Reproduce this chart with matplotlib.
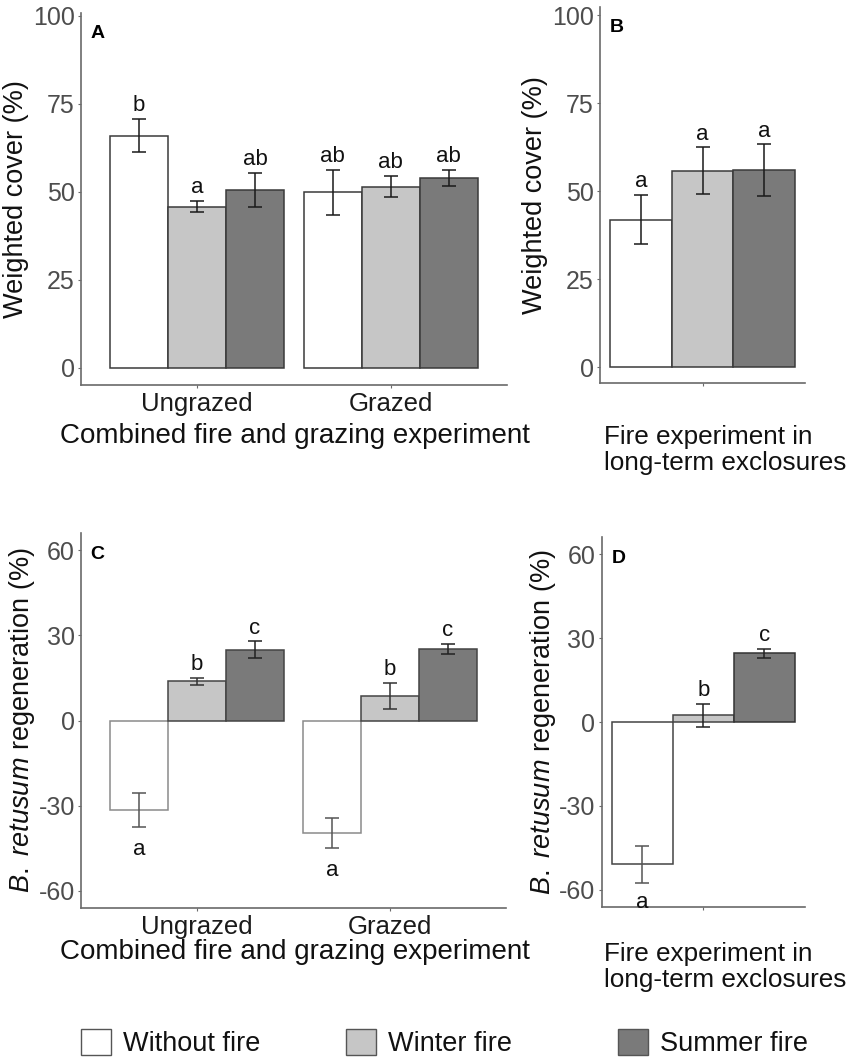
import matplotlib
matplotlib.use("Agg")
import matplotlib.pyplot as plt
from matplotlib.patches import Patch
import numpy as np

plt.rcParams['font.family'] = ['Liberation Sans', 'DejaVu Sans']
plt.rcParams['mathtext.fontset'] = 'custom'
plt.rcParams['mathtext.rm'] = 'Liberation Sans'
plt.rcParams['mathtext.it'] = 'Liberation Sans:italic'

# ---------------- data ----------------
groups = ['Ungrazed', 'Grazed']
treatments = ['Without fire', 'Winter fire', 'Summer fire']
fill_colors = ['#ffffff', '#c6c6c6', '#7a7a7a']

# Panel A: weighted cover (%), combined fire and grazing experiment
a_ungrazed = [66.0, 45.8, 50.6]
a_ungrazed_se = [4.7, 1.6, 4.8]
a_grazed = [49.9, 51.5, 54.0]
a_grazed_se = [6.4, 3.0, 2.3]
a_letters_ungrazed = ['b', 'a', 'ab']
a_letters_grazed = ['ab', 'ab', 'ab']

# Panel B: weighted cover (%), long-term exclosures
b_vals = [42.0, 55.9, 56.1]
b_se = [7.0, 6.6, 7.3]
b_letters = ['a', 'a', 'a']

# Panel C: B. retusum regeneration (%), combined experiment
c_ungrazed = [-31.5, 13.8, 24.9]
c_ungrazed_se = [6.0, 1.4, 3.0]
c_grazed = [-39.5, 8.7, 25.3]
c_grazed_se = [5.3, 4.6, 1.7]
c_letters_ungrazed = ['a', 'b', 'c']
c_letters_grazed = ['a', 'b', 'c']

# Panel D: B. retusum regeneration (%), long-term exclosures
d_vals = [-50.9, 2.4, 24.5]
d_se = [6.5, 4.2, 1.6]
d_letters = ['a', 'b', 'c']

cover_ticks = [0, 25, 50, 75, 100]
regen_ticks = [-60, -30, 0, 30, 60]

# ---------------- layout ----------------
W, H = 855, 1061
fig = plt.figure(figsize=(W / 100, H / 100), dpi=100)


def rect(l, r, t, b):
    return [l / W, 1 - b / H, (r - l) / W, (b - t) / H]


axA = fig.add_axes(rect(81, 507, 12.7, 385))
axB = fig.add_axes(rect(600, 805, 7, 383.3))
axC = fig.add_axes(rect(81, 506, 533.3, 908))
axD = fig.add_axes(rect(601.7, 805, 537.3, 906.7))

SPINE = '#6a6a6a'
TICKC = '#4d4d4d'
BW = 0.3


def style(ax, yticks, ylim, xlim, xticks, xticklabels):
    for s in ['top', 'right']:
        ax.spines[s].set_visible(False)
    for s in ['left', 'bottom']:
        ax.spines[s].set_color(SPINE)
        ax.spines[s].set_linewidth(1.2)
    ax.set_ylim(*ylim)
    ax.set_xlim(*xlim)
    ax.set_yticks(yticks)
    ax.set_yticklabels([str(t) for t in yticks])
    ax.set_xticks(xticks)
    ax.set_xticklabels(xticklabels)
    ax.tick_params(axis='y', colors=SPINE, labelcolor=TICKC, labelsize=18,
                   length=2.5, width=0.8, pad=2)
    ax.tick_params(axis='x', colors=SPINE, labelcolor='#1a1a1a', labelsize=18.5,
                   length=2.5, width=0.8, pad=2.5)


def draw_group(ax, xc, vals, ses, letters, edge, errc, neg_off=-20):
    for j, (v, s, lab) in enumerate(zip(vals, ses, letters)):
        x = xc + (j - 1) * BW
        ec = edge[j] if isinstance(edge, list) else edge
        ax.bar(x, v, width=BW, color=fill_colors[j], edgecolor=ec,
               linewidth=1.1, zorder=2)
        c = errc[j] if isinstance(errc, list) else errc
        ax.errorbar(x, v, yerr=s, fmt='none', ecolor=c, elinewidth=1.1,
                    capsize=5, capthick=1.1, zorder=3)
        if v >= 0:
            ax.annotate(lab, (x, v + s), xytext=(0, 5.5), textcoords='offset points',
                        ha='center', va='baseline', fontsize=16, color='#111111')
        else:
            ax.annotate(lab, (x, v - s), xytext=(0, neg_off), textcoords='offset points',
                        ha='center', va='baseline', fontsize=16, color='#111111')


def panel_letter(ax, letter):
    ax.annotate(letter, (0, 1), xycoords='axes fraction', xytext=(7.0, -9.0),
                textcoords='offset points', ha='left', va='top',
                fontsize=14, fontweight='bold', color='#000000')


# Panel A
style(axA, cover_ticks, (-4.9, 100.9), (0.4, 2.6), [1, 2], groups)
draw_group(axA, 1, a_ungrazed, a_ungrazed_se, a_letters_ungrazed, '#3a3a3a', '#1a1a1a')
draw_group(axA, 2, a_grazed, a_grazed_se, a_letters_grazed, '#3a3a3a', '#1a1a1a')
axA.set_ylabel('Weighted cover (%)', fontsize=19.5, color='#111111', labelpad=3)
panel_letter(axA, 'A')

# Panel B
style(axB, cover_ticks, (-4.5, 102.4), (0.5, 1.5), [1], [''])
draw_group(axB, 1, b_vals, b_se, b_letters, '#3a3a3a', '#1a1a1a')
axB.set_ylabel('Weighted cover (%)', fontsize=19.5, color='#111111', labelpad=3)
panel_letter(axB, 'B')

# Panel C
style(axC, regen_ticks, (-66, 66), (0.4, 2.6), [1, 2], groups)
draw_group(axC, 1, c_ungrazed, c_ungrazed_se, c_letters_ungrazed,
           ['#8a8a8a', '#444444', '#444444'], ['#555555', '#333333', '#222222'])
draw_group(axC, 2, c_grazed, c_grazed_se, c_letters_grazed,
           ['#8a8a8a', '#444444', '#444444'], ['#555555', '#333333', '#222222'])
axC.set_ylabel(r'$\mathit{B.\ retusum}$ regeneration (%)', fontsize=19.5,
               color='#111111', labelpad=1)
panel_letter(axC, 'C')

# Panel D
style(axD, regen_ticks, (-66, 66), (0.5, 1.5), [1], [''])
draw_group(axD, 1, d_vals, d_se, d_letters,
           ['#444444', '#444444', '#333333'], ['#555555', '#222222', '#222222'],
           neg_off=-18)
axD.set_ylabel(r'$\mathit{B.\ retusum}$ regeneration (%)', fontsize=19.5,
               color='#111111', labelpad=1)
panel_letter(axD, 'D')

# x-axis titles
fig.text(295 / W, 1 - 436 / H, 'Combined fire and grazing experiment', ha='center',
         va='center', fontsize=20, color='#111111')
fig.text(604 / W, 1 - 470 / H, 'Fire experiment in\nlong-term exclosures', ha='left',
         va='baseline', fontsize=18.8, color='#111111', linespacing=1.12)
fig.text(295 / W, 1 - 952 / H, 'Combined fire and grazing experiment', ha='center',
         va='center', fontsize=20, color='#111111')
fig.text(604 / W, 1 - 987 / H, 'Fire experiment in\nlong-term exclosures', ha='left',
         va='baseline', fontsize=18.8, color='#111111', linespacing=1.12)

# legend
xs = [81, 346, 618]
for j, x in enumerate(xs):
    h = Patch(facecolor=fill_colors[j], edgecolor='#555555', linewidth=1.0,
              label=treatments[j])
    fig.legend(handles=[h], loc='center left',
               bbox_to_anchor=(x / W, 1 - 1043 / H), frameon=False,
               fontsize=19.5, handlelength=1.12, handleheight=1.12,
               handletextpad=0.42, borderpad=0, borderaxespad=0,
               labelcolor='#111111')

fig.savefig('out.png', dpi=100)
